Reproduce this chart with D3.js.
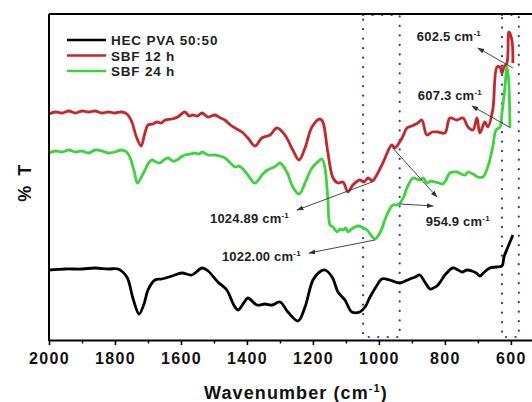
<!DOCTYPE html>
<html><head><meta charset="utf-8">
<script src="https://cdn.jsdelivr.net/npm/d3@7"></script>
<style>body{margin:0;background:#fff} svg{display:block}</style>
</head><body><svg id="c" width="532" height="402"></svg>
<script>
const seriesNames = ["HEC PVA 50:50", "SBF 12 h", "SBF 24 h"];
const seriesColors = ["#000000", "#c4262b", "#3cd43c"];

// [wavenumber cm-1, %T (arbitrary offset units)]
const hecPva = [[2000,69],[1950,70],[1900,70],[1860,71],[1820,70],[1791,70],[1764,62],[1745,40],[1727,25],[1712,35],[1700,49],[1679,59],[1658,60],[1627,63],[1597,66],[1567,64],[1536,71],[1518,68],[1488,57],[1461,49],[1440,34],[1427,29],[1410,36],[1397,41],[1370,34],[1345,35],[1324,34],[1300,37],[1276,27],[1245,18],[1224,32],[1200,59],[1180,67],[1164,69],[1142,62],[1124,47],[1103,39],[1082,27],[1058,27],[1042,32],[1027,42],[1009,52],[991,60],[967,59],[950,57],[936,56],[920,58],[906,60],[890,62],[876,64],[861,57],[845,50],[835,51],[824,53],[812,58],[800,64],[776,71],[760,69],[748,67],[733,69],[718,68],[705,66],[694,63],[680,67],[664,71],[645,72],[627,73],[621,82],[609,92],[594,104]];

const sbf12 = [[2000,225],[1980,227],[1960,226],[1940,228],[1920,226],[1900,228],[1880,227],[1860,228],[1840,226],[1820,227],[1800,226],[1780,227],[1764,225],[1750,218],[1735,202],[1721,193],[1710,205],[1700,214],[1685,215],[1673,217],[1660,216],[1648,219],[1627,220],[1610,222],[1588,227],[1575,223],[1564,224],[1550,223],[1536,226],[1518,222],[1497,224],[1480,221],[1467,219],[1450,214],[1436,211],[1415,207],[1397,201],[1376,193],[1355,201],[1330,204],[1309,211],[1285,204],[1261,189],[1242,179],[1224,191],[1203,212],[1179,220],[1170,217],[1155,187],[1139,161],[1124,156],[1109,157],[1094,147],[1079,154],[1058,159],[1045,157],[1033,161],[1020,158],[1012,161],[988,176],[961,194],[952,191],[930,201],[915,211],[900,213],[882,216],[870,219],[855,204],[839,207],[821,207],[800,206],[785,221],[764,219],[745,221],[730,212],[715,209],[703,221],[694,206],[679,217],[670,212],[655,229],[642,272],[633,272],[627,266],[621,272],[612,276],[606,307],[597,299],[594,276]];

const sbf24 = [[2000,186],[1980,188],[1960,187],[1940,189],[1920,187],[1900,188],[1880,186],[1860,189],[1840,188],[1820,186],[1800,187],[1780,189],[1765,187],[1755,182],[1742,168],[1732,156],[1720,162],[1709,169],[1698,176],[1688,179],[1676,177],[1664,176],[1652,179],[1639,181],[1625,178],[1612,179],[1600,182],[1588,184],[1572,185],[1558,186],[1545,185],[1536,187],[1518,184],[1497,184],[1482,183],[1467,181],[1450,176],[1436,172],[1425,173],[1415,171],[1397,164],[1376,156],[1352,165],[1338,169],[1324,171],[1312,173],[1300,176],[1279,167],[1261,152],[1242,145],[1224,156],[1203,171],[1185,177],[1173,180],[1164,172],[1155,141],[1148,114],[1139,112],[1127,107],[1118,110],[1109,109],[1100,111],[1094,107],[1083,110],[1073,112],[1060,113],[1052,112],[1036,109],[1024,104],[1012,100],[997,106],[976,124],[958,134],[947,134],[936,136],[925,142],[915,151],[897,161],[886,160],[876,159],[865,161],[855,156],[843,158],[830,157],[818,156],[806,155],[795,160],[785,166],[764,167],[750,165],[739,164],[730,167],[721,166],[710,164],[700,162],[685,162],[670,172],[655,192],[645,209],[633,212],[627,226],[618,252],[612,272],[607,260],[603,212]];

const majorTicks = [2000, 1800, 1600, 1400, 1200, 1000, 800, 600];
const minorTicks = [1900, 1700, 1500, 1300, 1100, 900, 700];

// highlighted wavenumber bands [from, to]
const bands = [[1048, 937], [627, 576]];

// annotation: label value, label anchor [wn, T], arrows [[tailWn, tailT],[headWn, headT]]
const annoLabels = ["602.5", "607.3", "1024.89", "1022.00", "954.9"];
const annoAnchors = [[885, 298], [882, 239], [1512, 116], [1476, 78], [858, 113]];
const annoArrows = [
  [[[594, 271], [700, 291]]],
  [[[600, 211], [718, 233]]],
  [[[1021, 157], [1248, 129]]],
  [[[1012, 99], [1212, 86]]],
  [[[958, 191], [824, 142]], [[936, 135], [836, 133]]]
];

const svg = d3.select("#c");
const FONT = "'Liberation Sans', Arial, Helvetica, sans-serif";
const L = 49, R = 532, T = 14, B = 340;
const x = d3.scaleLinear().domain([2000, 536]).range([L, R]);
const y = d3.scaleLinear().domain([-1, 325]).range([B, T]);

// arrow marker
svg.append("defs").append("marker")
  .attr("id", "ah").attr("viewBox", "0 0 10 10").attr("refX", 9).attr("refY", 5)
  .attr("markerWidth", 7).attr("markerHeight", 7).attr("markerUnits", "userSpaceOnUse")
  .attr("orient", "auto")
  .append("path").attr("d", "M0,1.5 L10,5 L0,8.5 Z").attr("fill", "#333");

// dotted bands
bands.forEach(b => {
  svg.append("rect")
    .attr("x", x(b[0])).attr("y", y(324))
    .attr("width", x(b[1]) - x(b[0])).attr("height", y(2) - y(324))
    .attr("fill", "none").attr("stroke", "#34349c").attr("stroke-width", 2.2)
    .attr("stroke-dasharray", "0.1,9.4").attr("stroke-linecap", "round");
});

// lines
const line = d3.line().x(d => x(d[0])).y(d => y(d[1])).curve(d3.curveCatmullRom.alpha(0.5));
[hecPva, sbf12, sbf24].forEach((s, i) => {
  svg.append("path").datum(s).attr("d", line)
    .attr("fill", "none").attr("stroke", seriesColors[i])
    .attr("stroke-width", 2.8).attr("stroke-linejoin", "round");
});

// axes
const xAxis = d3.axisBottom(x).tickValues(majorTicks).tickSize(5).tickSizeOuter(0).tickPadding(7.5).tickFormat(d3.format("d"));
const gx = svg.append("g").attr("transform", `translate(0,${B})`).call(xAxis);
gx.select(".domain").attr("stroke-width", 2);
gx.selectAll(".tick line").attr("stroke-width", 1.6);
gx.selectAll("text").attr("font-family", FONT).attr("font-size", 16).attr("font-weight", "bold")
  .attr("letter-spacing", "1.3px").attr("fill", "#111");
const gm = svg.append("g").attr("transform", `translate(0,${B})`)
  .call(d3.axisBottom(x).tickValues(minorTicks).tickSize(3.5).tickSizeOuter(0).tickFormat(""));
gm.select(".domain").remove();
gm.selectAll(".tick line").attr("stroke-width", 1.4);

// frame: left axis and top border
svg.append("line").attr("x1", L).attr("x2", L).attr("y1", T).attr("y2", B + 1)
  .attr("stroke", "#000").attr("stroke-width", 2);
svg.append("line").attr("x1", L).attr("x2", R).attr("y1", T).attr("y2", T)
  .attr("stroke", "#000").attr("stroke-width", 2);

// axis titles
const xt = svg.append("text").attr("x", 296).attr("y", 399).attr("text-anchor", "middle")
  .attr("font-family", FONT).attr("font-size", 18).attr("font-weight", "bold").attr("letter-spacing", "1.1px").attr("fill", "#111");
xt.append("tspan").text("Wavenumber (cm");
xt.append("tspan").attr("dy", -7).attr("font-size", 11).text("-1");
xt.append("tspan").attr("dy", 7).text(")");

svg.append("text").attr("transform", "translate(31,182) rotate(-90)").attr("text-anchor", "middle")
  .attr("font-family", FONT).attr("font-size", 18).attr("font-weight", "bold").attr("letter-spacing", "2.5px")
  .attr("fill", "#111").text("% T");

// legend
seriesNames.forEach((n, i) => {
  const ly = 40 + i * 15.5;
  svg.append("line").attr("x1", 67).attr("x2", 106).attr("y1", ly).attr("y2", ly)
    .attr("stroke", seriesColors[i]).attr("stroke-width", 2.6);
  svg.append("text").attr("x", 111).attr("y", ly + 5).attr("font-family", FONT)
    .attr("font-size", 13.5).attr("font-weight", "bold").attr("letter-spacing", "0.8px")
    .attr("fill", "#222").text(n);
});

// annotations
annoLabels.forEach((lab, i) => {
  annoArrows[i].forEach(a => {
    svg.append("line").attr("x1", x(a[0][0])).attr("y1", y(a[0][1]))
      .attr("x2", x(a[1][0])).attr("y2", y(a[1][1]))
      .attr("stroke", "#333").attr("stroke-width", 0.9).attr("marker-end", "url(#ah)");
  });
  const t = svg.append("text").attr("x", x(annoAnchors[i][0])).attr("y", y(annoAnchors[i][1]))
    .attr("font-family", FONT).attr("font-size", 13).attr("font-weight", "bold")
    .attr("letter-spacing", "0.2px").attr("fill", "#222");
  t.append("tspan").text(lab + " cm");
  t.append("tspan").attr("dy", -5).attr("font-size", 8).text("-1");
});
</script></body></html>
